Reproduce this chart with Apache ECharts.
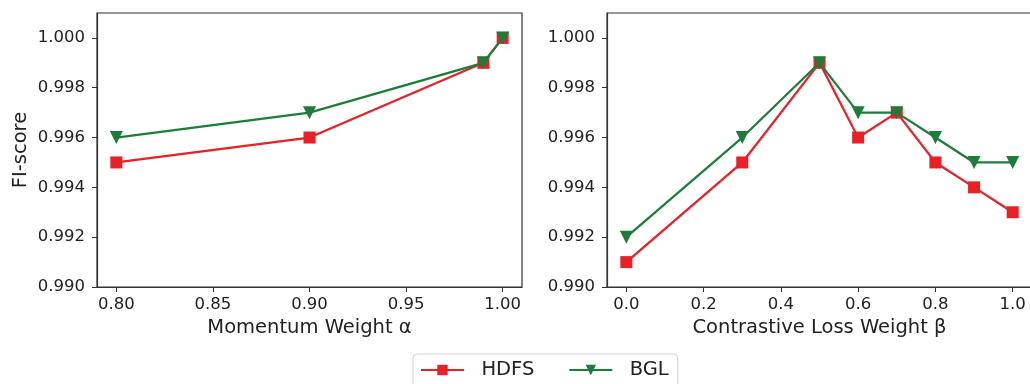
<!DOCTYPE html>
<html>
<head>
<meta charset="utf-8">
<script src="https://cdn.jsdelivr.net/npm/echarts@6/dist/echarts.min.js"></script>
<style>
html,body{margin:0;padding:0;background:#fff;}
#chart{width:1030px;height:384px;}
</style>
</head>
<body>
<div id="chart"></div>
<script>
// ---- data ----
const alphaX = [0.80, 0.90, 0.99, 1.00];
const alphaHDFS = [0.995, 0.996, 0.999, 1.000];
const alphaBGL = [0.996, 0.997, 0.999, 1.000];

const betaX = [0.0, 0.3, 0.5, 0.6, 0.7, 0.8, 0.9, 1.0];
const betaHDFS = [0.991, 0.995, 0.999, 0.996, 0.997, 0.995, 0.994, 0.993];
const betaBGL = [0.992, 0.996, 0.999, 0.997, 0.997, 0.996, 0.995, 0.995];

const yTicks = [0.990, 0.992, 0.994, 0.996, 0.998, 1.000];
const alphaTicks = [0.80, 0.85, 0.90, 0.95, 1.00];
const betaTicks = [0.0, 0.2, 0.4, 0.6, 0.8, 1.0];

const seriesNames = ['HDFS', 'BGL'];
const xNames = ['Momentum Weight α', 'Contrastive Loss Weight β'];
const yName = 'FI-score';

// ---- style ----
const FONT = 'DejaVu Sans';
const TXT = '#222';
const AX = '#333';
const RED = '#ec1f26';
const GREEN = '#1b7d39';

const zip = (xs, ys) => xs.map((x, i) => [x, ys[i]]);

function xAxis(gi, min, max, ticks, digits, name) {
  return {
    type: 'value', gridIndex: gi, min: min, max: max,
    name: name, nameLocation: 'middle', nameGap: 30,
    nameTextStyle: {fontFamily: FONT, fontSize: 19.5, color: TXT},
    axisLine: {show: true, onZero: false, lineStyle: {color: AX, width: 1.2}},
    axisTick: {show: true, length: 5, lineStyle: {color: AX, width: 1}, customValues: ticks},
    axisLabel: {fontFamily: FONT, fontSize: 16.5, color: TXT, margin: 9, customValues: ticks,
      formatter: v => Number(v).toFixed(digits)},
    splitLine: {show: false}
  };
}
function yAxis(gi, showName) {
  return {
    type: 'value', gridIndex: gi, min: 0.990, max: 1.001,
    name: showName ? yName : '', nameLocation: 'middle', nameGap: 66,
    nameTextStyle: {fontFamily: FONT, fontSize: 19.5, color: TXT},
    axisLine: {show: true, onZero: false, lineStyle: {color: AX, width: 1.2}},
    axisTick: {show: true, length: 5, lineStyle: {color: AX, width: 1}, customValues: yTicks},
    axisLabel: {fontFamily: FONT, fontSize: 16.5, color: TXT, margin: 12, customValues: yTicks,
      formatter: v => Number(v).toFixed(3)},
    splitLine: {show: false}
  };
}
function line(name, xi, data, color, symbol, size, rot) {
  return {
    type: 'line', name: name, xAxisIndex: xi, yAxisIndex: xi, data: data,
    symbol: symbol, symbolSize: size, symbolRotate: rot,
    lineStyle: {color: color, width: 2.2}, itemStyle: {color: color},
    showAllSymbol: true, z: name === 'BGL' ? 3 : 2
  };
}

const chart = echarts.init(document.getElementById('chart'), null, {renderer: 'canvas'});
chart.setOption({
  animation: false,
  backgroundColor: '#fff',
  grid: [
    {left: 97, top: 13, width: 425, height: 274, show: true, borderColor: AX, borderWidth: 1.2, outerBoundsMode: 'none'},
    {left: 607, top: 13, width: 425, height: 274, show: true, borderColor: AX, borderWidth: 1.2, outerBoundsMode: 'none'}
  ],
  xAxis: [
    xAxis(0, 0.79, 1.01, alphaTicks, 2, xNames[0]),
    xAxis(1, -0.05, 1.05, betaTicks, 1, xNames[1])
  ],
  yAxis: [yAxis(0, true), yAxis(1, false)],
  legend: {
    data: seriesNames, left: 413, top: 354,
    itemWidth: 43, itemHeight: 13, itemGap: 34,
    padding: [6, 9, 12, 7],
    borderColor: '#d2d2d2', borderWidth: 1, borderRadius: 4,
    formatter: n => '  ' + n,
    textStyle: {fontFamily: FONT, fontSize: 19.5, color: TXT}
  },
  series: [
    line('HDFS', 0, zip(alphaX, alphaHDFS), RED, 'rect', 12, 0),
    line('BGL', 0, zip(alphaX, alphaBGL), GREEN, 'triangle', 13, 180),
    line('HDFS', 1, zip(betaX, betaHDFS), RED, 'rect', 12, 0),
    line('BGL', 1, zip(betaX, betaBGL), GREEN, 'triangle', 13, 180)
  ]
});
</script>
</body>
</html>
